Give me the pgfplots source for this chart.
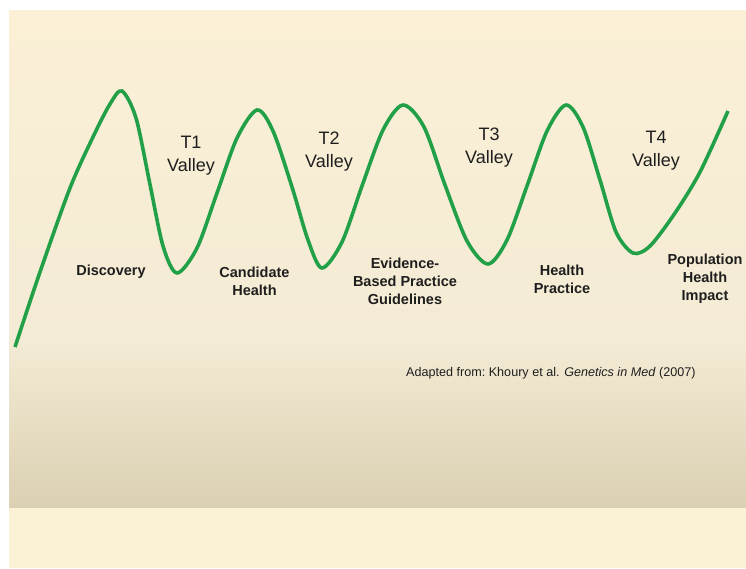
\documentclass[border=0pt]{standalone}
\usepackage{pgfplots}
\pgfplotsset{compat=1.18}
\usepackage{fontspec}
\setmainfont{Liberation Sans}
\definecolor{curvegreen}{RGB}{34,160,72}
\definecolor{bgtop}{RGB}{251,240,214}
\definecolor{bgmid}{RGB}{244,235,213}
\definecolor{bgbot}{RGB}{219,208,178}
\definecolor{band}{RGB}{251,242,213}
\definecolor{ink}{RGB}{30,30,30}
\begin{document}
\begin{tikzpicture}
\begin{axis}[
    width=746pt, height=568pt, scale only axis,
    xmin=0, xmax=746, ymin=0, ymax=568,
    y dir=reverse,
    hide axis, clip=false,
    ]
% background panels
\fill[white] (axis cs:0,0) rectangle (axis cs:746,568);
\shade[top color=bgtop, bottom color=bgmid] (axis cs:9,10) rectangle (axis cs:746,340);
\shade[top color=bgmid, bottom color=bgbot] (axis cs:9,339.5) rectangle (axis cs:746,508);
\fill[band] (axis cs:9,508) rectangle (axis cs:746,568);

% the translation curve (pixel positions)
\addplot[curvegreen, line width=3.6pt, smooth, tension=0.5] coordinates {
    (15,347) (40,272) (70,188) (93,137) (110,104) (122,91)
    (136,118) (149.5,182) (163,246) (177,273)
    (197,248) (217,193) (237,138) (257,110)
    (273,131) (292,187) (308,240) (322,268)
    (342,242) (362,186) (383,130) (403,105)
    (424,127) (445,185) (467,241) (488,264)
    (507,240) (527,186) (547,131) (566,105)
    (583,127) (600,180) (616,232) (633,253)
    (650,246) (675,213) (700,172) (728,111)
};

% valley labels
\begin{scope}[every node/.style={align=center, text=ink, font=\fontsize{18}{23}\selectfont}]
\node at (axis cs:191,155.5) {T1\\Valley};
\node at (axis cs:329,152) {T2\\Valley};
\node at (axis cs:489,148) {T3\\Valley};
\node at (axis cs:656,150.5) {T4\\Valley};
\end{scope}

% stage labels
\begin{scope}[every node/.style={align=center, text=ink, font=\bfseries\fontsize{14.5}{18}\selectfont}]
\node at (axis cs:111,272) {Discovery};
\node at (axis cs:254.5,281) {Candidate\\Health};
\node at (axis cs:405,281) {Evidence-\\Based Practice\\Guidelines};
\node at (axis cs:562,279) {Health\\Practice};
\node at (axis cs:705,279) {Population\\Health\\Impact};
\end{scope}

\node[anchor=west, text=ink, font=\fontsize{12.6}{15}\selectfont, inner sep=0pt]
    at (axis cs:406,373) {Adapted from:\ Khoury et al. \textit{Genetics in Med} (2007)};
\end{axis}
\end{tikzpicture}
\end{document}
